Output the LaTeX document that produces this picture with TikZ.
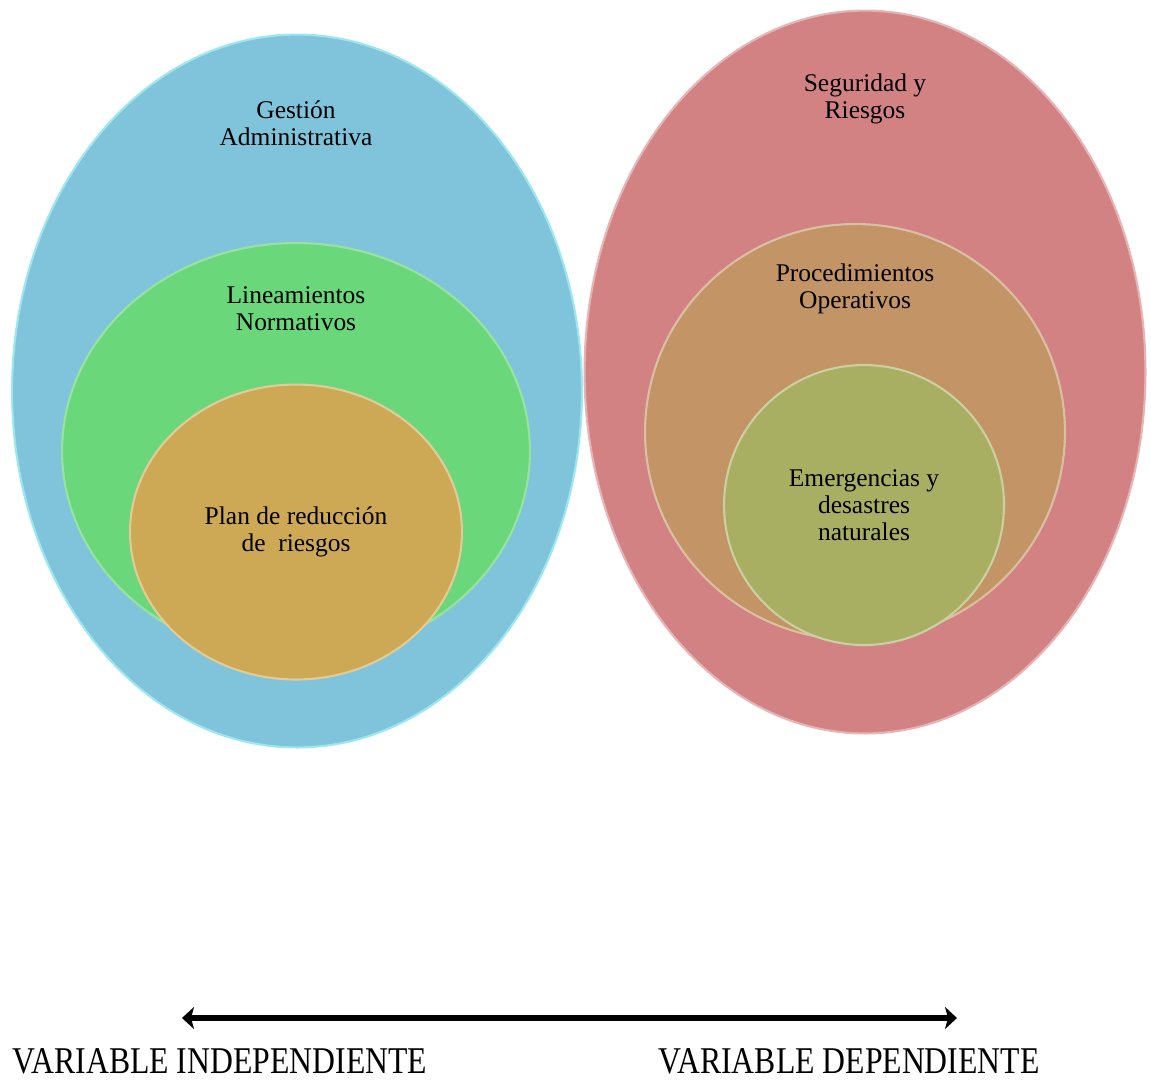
\documentclass[tikz,border=0pt]{standalone}
\usepackage{fontspec}
\setmainfont{Liberation Serif}
\newfontfamily\condfont[FakeStretch=0.84]{Liberation Serif}
\usepackage{tikz}
\usetikzlibrary{shapes.geometric}
\usetikzlibrary{arrows.meta}
\definecolor{azul}{HTML}{80C4DC}
\definecolor{verde}{HTML}{6AD77A}
\definecolor{ocre}{HTML}{CDA855}
\definecolor{rosa}{HTML}{D38284}
\definecolor{cobre}{HTML}{C39465}
\definecolor{oliva}{HTML}{A8AF62}
\tikzset{
	conj/.style={ellipse,inner sep=0pt,line width=1.2pt},
	big/.style={conj,minimum width=11.4cm,minimum height=14.26cm},
	etiq/.style={align=center,font=\fontsize{14.5}{15.5}\selectfont},
	varlab/.style={anchor=base,inner sep=0pt,font=\condfont\fontsize{21.5}{24}\selectfont},
	flecha/.style={line width=3pt,{Stealth[length=0.24cm,width=0.44cm,inset=0.06cm]}-{Stealth[length=0.24cm,width=0.44cm,inset=0.06cm]}},
	}

\begin{document}
\begin{tikzpicture}[x=0.02cm,y=-0.02cm]
\useasboundingbox (0,0) rectangle (1151,1080);
%CONJUNTO IZQUIERDO
\node[big,fill=azul,draw=azul!70!cyan!60!white] (ga) at (297,391) {};
\node[conj,fill=verde,draw=verde!70!white,minimum width=9.36cm,minimum height=8.32cm] (ln) at (296,451) {};
\node[conj,fill=ocre,draw=ocre!60!white,minimum width=6.64cm,minimum height=5.9cm] (pr) at (296,532) {};
%CONJUNTO DERECHO
\node[big,fill=rosa,draw=rosa!60!white,minimum width=11.22cm,minimum height=14.46cm] (sr) at (865,372) {};
\node[conj,fill=cobre,draw=cobre!60!white,minimum width=8.4cm,minimum height=8.32cm] (po) at (855,432) {};
\node[conj,fill=oliva,draw=oliva!60!white,minimum width=5.6cm,minimum height=5.6cm] (ed) at (864,505) {};
%TEXTOS
\node[etiq] (tga) at (296,123) {Gestión\\Administrativa};
\node[etiq] (tln) at (296,309) {Lineamientos\\Normativos};
\node[etiq] (tpr) at (296,532) {Plan de reducción\\de\ \ riesgos};
\node[etiq] (tsr) at (865,99) {Seguridad y\\Riesgos};
\node[etiq] (tpo) at (855,289) {Procedimientos\\Operativos};
\node[etiq] (ted) at (864,505) {Emergencias y\\desastres\\naturales};
%FLECHA
\coordinate (izq) at (182,1018);
\coordinate (der) at (957,1018);
\draw[flecha] (izq) -- (der);
\node[varlab] (vi) at (220,1073) {VARIABLE INDEPENDIENTE};
\node[varlab] (vd) at (849,1073) {VARIABLE DEPENDIENTE};
\end{tikzpicture}
\end{document}
